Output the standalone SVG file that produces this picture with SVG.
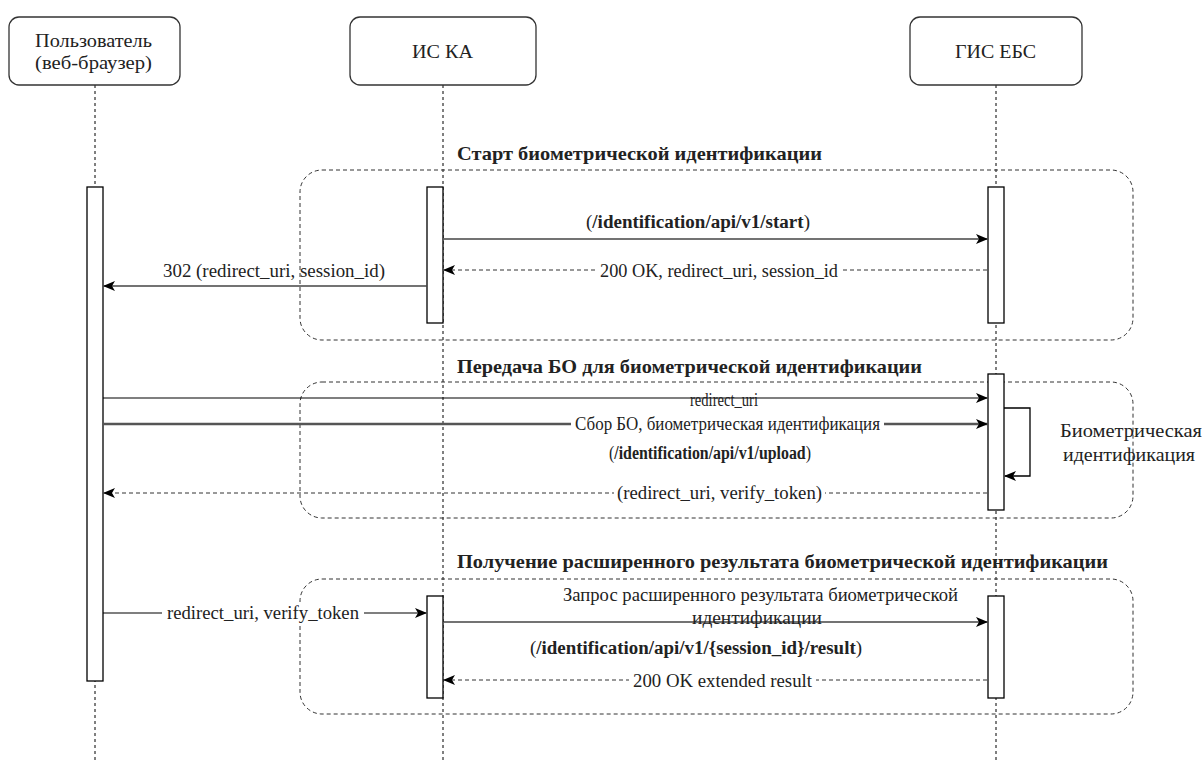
<svg xmlns="http://www.w3.org/2000/svg" width="1202" height="762" viewBox="0 0 1202 762" font-family="Liberation Serif, Times New Roman, serif">
<defs>
<marker id="ah" markerWidth="12" markerHeight="10" viewBox="0 0 12 10" refX="11" refY="5" orient="auto" markerUnits="userSpaceOnUse">
<path d="M0,0 L12,5 L0,10 L3,5 z" fill="#000"/>
</marker>
<style>
.box{fill:#fff;stroke:#333;stroke-width:1.3}
.life{stroke:#000;stroke-width:1;stroke-dasharray:3 3;fill:none}
.grp{fill:none;stroke:#333;stroke-width:1;stroke-dasharray:4 3}
.act{fill:#fff;stroke:#000;stroke-width:1.3}
.msg{stroke:#444;stroke-width:1.6;fill:none;marker-end:url(#ah)}
.ret{stroke:#333;stroke-width:1;stroke-dasharray:4 3;fill:none;marker-end:url(#ah)}
.t{font-family:'Liberation Serif','Times New Roman',Tinos,'DejaVu Serif','Noto Serif',FreeSerif,Times,serif;font-size:18px;fill:#222;text-anchor:middle}
.b{font-weight:bold}
.ttl{font-family:'Liberation Serif','Times New Roman',Tinos,'DejaVu Serif','Noto Serif',FreeSerif,Times,serif;font-size:19px;font-weight:bold;fill:#222;text-anchor:middle}
.bg{fill:#fff}
</style>
</defs>
<rect width="1202" height="762" fill="#fff"/>

<g id="lifelines">
<line class="life" x1="95" y1="85" x2="95" y2="762"/>
<line class="life" x1="443" y1="85" x2="443" y2="762"/>
<line class="life" x1="996" y1="85" x2="996" y2="762"/>
</g>

<g id="group-start">
<rect class="grp" x="300" y="170" width="833" height="170" rx="22"/>
<text class="ttl" x="639.5" y="160" textLength="365" lengthAdjust="spacingAndGlyphs">Старт биометрической идентификации</text>
</g>
<g id="group-upload">
<rect class="grp" x="300" y="382" width="833" height="136" rx="22"/>
<text class="ttl" x="689.5" y="373" textLength="465" lengthAdjust="spacingAndGlyphs">Передача БО для биометрической идентификации</text>
</g>
<g id="group-result">
<rect class="grp" x="300" y="579" width="833" height="135" rx="22"/>
<text class="ttl" x="782.5" y="568" textLength="651" lengthAdjust="spacingAndGlyphs">Получение расширенного результата биометрической идентификации</text>
</g>

<g id="user">
<rect class="box" x="9" y="17" width="171" height="68" rx="10"/>
<text class="t" x="93.5" y="47" textLength="117" lengthAdjust="spacingAndGlyphs">Пользователь</text>
<text class="t" x="93.5" y="69" textLength="117" lengthAdjust="spacingAndGlyphs">(веб-браузер)</text>
</g>
<g id="iska">
<rect class="box" x="350" y="17" width="186" height="68" rx="10"/>
<text class="t" x="442.5" y="58" textLength="61" lengthAdjust="spacingAndGlyphs">ИС КА</text>
</g>
<g id="gisebs">
<rect class="box" x="910" y="17" width="172" height="68" rx="10"/>
<text class="t" x="995.5" y="58" textLength="81" lengthAdjust="spacingAndGlyphs">ГИС ЕБС</text>
</g>

<g id="activations">
<rect class="act" x="87" y="187" width="16" height="494"/>
<rect class="act" x="427" y="187" width="16" height="136"/>
<rect class="act" x="988" y="187" width="16" height="136"/>
<rect class="act" x="988" y="374" width="16" height="136"/>
<rect class="act" x="427" y="596" width="16" height="102"/>
<rect class="act" x="988" y="596" width="16" height="102"/>
</g>

<g id="connectors">
<line class="msg" x1="444" y1="239" x2="987" y2="239"/>
<text class="t" x="698" y="228" textLength="224" lengthAdjust="spacingAndGlyphs">(<tspan class="b">/identification/api/v1/start</tspan>)</text>
<line class="ret" x1="987" y1="270" x2="444" y2="270"/>
<rect class="bg" x="598" y="261" width="242" height="20"/>
<text class="t" x="719" y="277" textLength="238" lengthAdjust="spacingAndGlyphs">200 OK, redirect_uri, session_id</text>
<line class="msg" x1="427" y1="286" x2="104" y2="286"/>
<text class="t" x="274" y="277" textLength="222" lengthAdjust="spacingAndGlyphs">302 (redirect_uri, session_id)</text>

<line class="msg" style="stroke-width:1.2;stroke:#000" x1="103" y1="398" x2="987" y2="398"/>
<text class="t" x="724" y="406" textLength="68" lengthAdjust="spacingAndGlyphs">redirect_uri</text>
<line class="msg" style="stroke:#555;stroke-width:2.5" x1="103" y1="424" x2="987" y2="424"/>
<rect class="bg" x="571" y="415" width="313" height="19"/>
<text class="t" x="727.5" y="430" textLength="305" lengthAdjust="spacingAndGlyphs">Сбор БО, биометрическая идентификация</text>
<text class="t" x="710" y="459" textLength="202" lengthAdjust="spacingAndGlyphs">(<tspan class="b">/identification/api/v1/upload</tspan>)</text>
<path class="msg" style="stroke:#000;stroke-width:1.3" d="M1004,408 H1030 V476 H1005"/>
<text class="t" x="1131" y="437" textLength="142" lengthAdjust="spacingAndGlyphs">Биометрическая</text>
<text class="t" x="1129" y="461" textLength="132" lengthAdjust="spacingAndGlyphs">идентификация</text>
<line class="ret" x1="987" y1="493" x2="104" y2="493"/>
<rect class="bg" x="614" y="484" width="211" height="20"/>
<text class="t" x="719.5" y="499" textLength="205" lengthAdjust="spacingAndGlyphs">(redirect_uri, verify_token)</text>

<line class="msg" style="stroke:#000;stroke-width:1.2" x1="103" y1="613" x2="426" y2="613"/>
<rect class="bg" x="162" y="604" width="202" height="20"/>
<text class="t" x="263" y="619" textLength="192" lengthAdjust="spacingAndGlyphs">redirect_uri, verify_token</text>
<line class="msg" x1="444" y1="622" x2="987" y2="622"/>
<text class="t" x="760.5" y="601" textLength="395" lengthAdjust="spacingAndGlyphs">Запрос расширенного результата биометрической</text>
<text class="t" x="757" y="624" textLength="130" lengthAdjust="spacingAndGlyphs">идентификации</text>
<text class="t" x="696" y="654" textLength="332" lengthAdjust="spacingAndGlyphs">(<tspan class="b">/identification/api/v1/{session_id}/result</tspan>)</text>
<line class="ret" x1="987" y1="680" x2="444" y2="680"/>
<rect class="bg" x="629" y="671" width="187" height="20"/>
<text class="t" x="722.5" y="687" textLength="179" lengthAdjust="spacingAndGlyphs">200 OK extended result</text>
</g>
</svg>
